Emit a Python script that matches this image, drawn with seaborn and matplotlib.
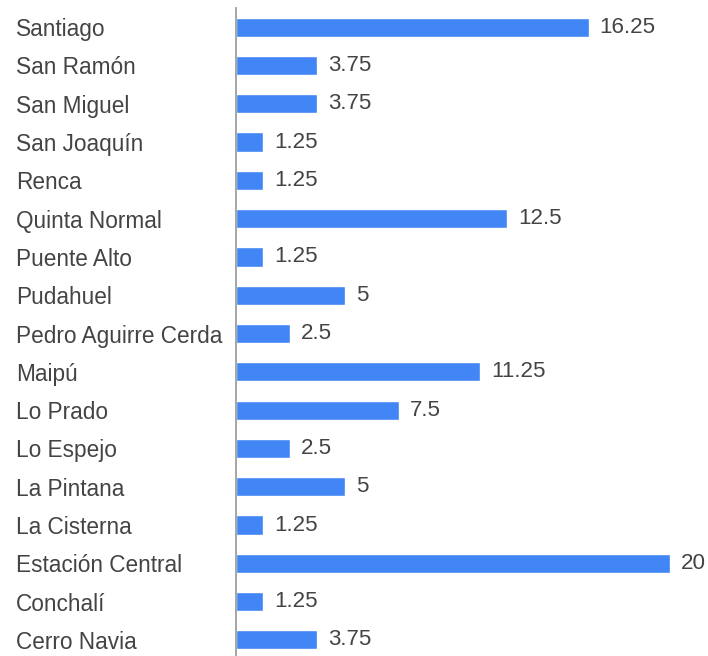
import matplotlib
matplotlib.use("Agg")
import matplotlib.pyplot as plt
import seaborn as sns

# Data (top to bottom)
comunas = ["Santiago", "San Ramón", "San Miguel", "San Joaquín", "Renca",
           "Quinta Normal", "Puente Alto", "Pudahuel", "Pedro Aguirre Cerda",
           "Maipú", "Lo Prado", "Lo Espejo", "La Pintana", "La Cisterna",
           "Estación Central", "Conchalí", "Cerro Navia"]
valores = [16.25, 3.75, 3.75, 1.25, 1.25, 12.5, 1.25, 5, 2.5,
           11.25, 7.5, 2.5, 5, 1.25, 20, 1.25, 3.75]

sns.set_style("white")
plt.rcParams["font.family"] = ["Liberation Sans", "DejaVu Sans"]

fig = plt.figure(figsize=(7.08, 6.56), dpi=100)
ax = fig.add_axes([236 / 708, 0, 434 / 708, 648 / 656])

sns.barplot(x=valores, y=comunas, orient="h", color="#4285f4",
            saturation=1, width=0.5, ax=ax)

# value labels after each bar
ax.bar_label(ax.containers[0], labels=[f"{v:g}" for v in valores],
             padding=8, fontsize=16.1, color="#444444")

ax.set_xlim(0, 20)
ax.set_ylim(16.42, -0.5)
ax.set_xticks([])
ax.set_xlabel("")
ax.set_ylabel("")

for s in ["top", "right", "bottom"]:
    ax.spines[s].set_visible(False)
ax.spines["left"].set_color("#9e9e9e")
ax.spines["left"].set_linewidth(1.3)

ax.tick_params(axis="y", length=0, pad=158.4, labelsize=16.3, labelcolor="#444444")
for lbl in ax.get_yticklabels():
    lbl.set_ha("left")

fig.savefig("out.png", dpi=100)
